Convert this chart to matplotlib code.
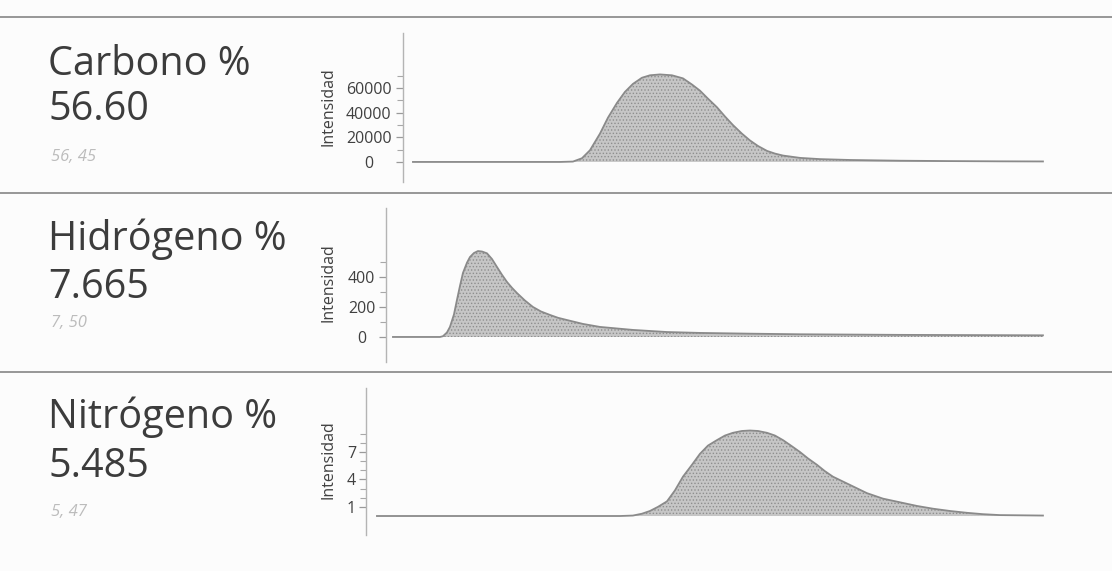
import matplotlib
matplotlib.use('Agg')
import matplotlib.pyplot as plt
from matplotlib.ticker import FixedLocator

plt.rcParams['font.family'] = ['Open Sans', 'DejaVu Sans']
plt.rcParams['hatch.linewidth'] = 0.6

# element names, measured %, handwritten reference values
elements = ['Carbono %', 'Hidrógeno %', 'Nitrógeno %']
measured = ['56.60', '7.665', '5.485']
handwritten = ['56, 45', '7, 50', '5, 47']

# peaks (x = channel, y = intensity)
carbono_x = [53, 200, 213, 222, 230, 240, 248, 257, 265, 273, 282, 290, 300, 312, 323, 332,
             340, 348, 357, 365, 373, 382, 390, 398, 407, 415, 423, 440, 460, 490, 540, 590, 640, 683]
carbono_y = [0, 0, 300, 3000, 9500, 23000, 36000, 48000, 57000, 63500, 68500, 70500, 71200, 70500,
             68000, 63000, 58000, 51500, 44500, 37000, 30000, 23000, 17500, 13000, 9000, 6800, 5200,
             3300, 2300, 1600, 1000, 700, 500, 400]

hidrogeno_x = [33, 80, 83, 87, 90, 94, 97, 100, 103, 107, 110, 114, 118, 122, 127, 132, 137, 142,
               147, 152, 157, 165, 173, 181, 190, 198, 207, 223, 240, 273, 307, 340, 390, 440,
               540, 640, 683]
hidrogeno_y = [0, 0, 5, 30, 67, 150, 247, 340, 427, 495, 533, 560, 573, 570, 558, 520, 467, 415,
               367, 328, 293, 243, 200, 170, 147, 128, 113, 87, 67, 47, 33, 27, 22, 18,
               14, 12, 11]

nitrogeno_x = [17, 260, 273, 282, 290, 298, 307, 315, 323, 332, 340, 348, 357, 365, 373, 382, 390,
               398, 407, 415, 423, 431, 440, 448, 457, 465, 473, 490, 507, 523, 540, 557, 573,
               590, 607, 623, 640, 683]
nitrogeno_y = [0, 0, 0.05, 0.25, 0.55, 1.0, 1.6, 2.8, 4.3, 5.6, 6.8, 7.7, 8.3, 8.8, 9.1, 9.3, 9.35,
               9.3, 9.1, 8.8, 8.3, 7.7, 7.0, 6.3, 5.6, 4.9, 4.3, 3.4, 2.5, 1.9, 1.5, 1.1, 0.8,
               0.55, 0.35, 0.2, 0.1, 0.05]

series = [(carbono_x, carbono_y), (hidrogeno_x, hidrogeno_y), (nitrogeno_x, nitrogeno_y)]
major_ticks = [[0, 20000, 40000, 60000], [0, 200, 400], [1, 4, 7]]
minor_ticks = [[10000, 30000, 50000, 70000], [100, 300, 500], [2, 3, 5, 6, 8, 9]]
ylims = [(-16300, 104900), (-167, 860), (-2.08, 14.0)]

# layout (figure fractions / channel units)
axes_rect = [[0.3237, 0.6813, 0.6205, 0.2609],
             [0.3237, 0.3660, 0.6205, 0.2697],
             [0.3237, 0.0630, 0.6205, 0.2575]]
spine_x = [43, 26, 6]
label_pad = [19.5, 12.5, 5.5]
ylabel_y = [0.8126, 0.5044, 0.1944]
title_y = [0.8687, 0.5622, 0.2504]
value_y = [0.7898, 0.4781, 0.1646]
hand_y = [0.725, 0.4343, 0.1033]
sep_y = [0.970, 0.662, 0.3485]

fig = plt.figure(figsize=(11.12, 5.71), dpi=100)
fig.patch.set_facecolor('#fcfcfc')

for y in sep_y:
    fig.add_artist(plt.Line2D([0, 1], [y, y], color='#8f8f8f', lw=1.3))

text_col = '#3c3c3c'
for i in range(3):
    ax = fig.add_axes(axes_rect[i])
    ax.set_facecolor('none')
    x, y = series[i]
    ax.fill_between(x, y, 0, facecolor='#c6c6c6', hatch='.....', edgecolor='#8e8e8e', linewidth=0)
    ax.plot(x, y, color='#8a8a8a', lw=1.3)
    ax.set_xlim(0, 690)
    ax.set_ylim(*ylims[i])

    for s in ['top', 'right', 'bottom']:
        ax.spines[s].set_visible(False)
    ax.spines['left'].set_position(('data', spine_x[i]))
    ax.spines['left'].set_color('#b4b4b4')
    ax.spines['left'].set_linewidth(1.0)
    ax.set_xticks([])
    ax.yaxis.set_major_locator(FixedLocator(major_ticks[i]))
    ax.yaxis.set_minor_locator(FixedLocator(minor_ticks[i]))
    ax.tick_params(axis='y', which='major', direction='out', length=5, width=0.9,
                   color='#9a9a9a', labelsize=11.5, labelcolor='#404040', pad=label_pad[i])
    ax.tick_params(axis='y', which='minor', direction='out', length=4, width=0.8, color='#a8a8a8')
    for lab in ax.get_yticklabels():
        lab.set_horizontalalignment('center')

    fig.text(328 / 1112, ylabel_y[i], 'Intensidad', rotation=90, ha='center', va='center',
             fontsize=11.5, color='#404040')

    fig.text(0.0432, title_y[i], elements[i], fontsize=28.5, color=text_col, va='baseline')
    fig.text(0.0432, value_y[i], measured[i], fontsize=28.5, color=text_col, va='baseline')
    fig.text(0.046, hand_y[i], handwritten[i], fontsize=12, color='#bcbcbc',
             style='italic', va='center')

fig.savefig('out.png', dpi=100, facecolor=fig.get_facecolor())
